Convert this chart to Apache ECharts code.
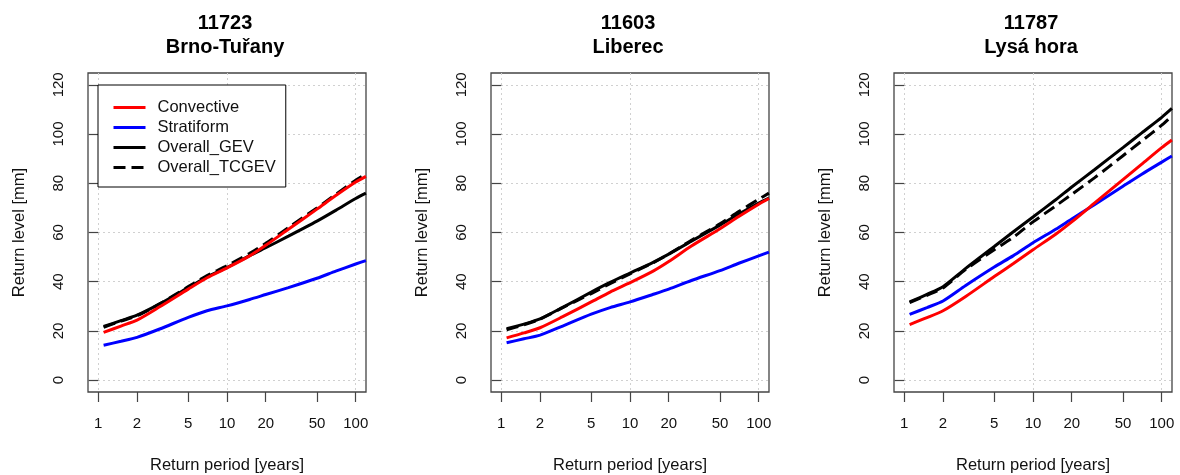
<!DOCTYPE html>
<html>
<head>
<meta charset="utf-8">
<script src="https://cdn.jsdelivr.net/npm/echarts@6/dist/echarts.min.js"></script>
<style>
  html, body { margin: 0; padding: 0; background: #fff; }
  #chart { width: 1180px; height: 475px; }
</style>
</head>
<body>
<div id="chart"></div>
<script>
// Return periods [years] at which the return levels are evaluated
const returnPeriods = [1.1, 1.5, 2, 3, 5, 7, 10, 15, 20, 30, 50, 70, 100, 120];

// Axis ticks
const xTickLabels = [1, 2, 5, 10, 20, 50, 100];
const yTickLabels = [0, 20, 40, 60, 80, 100, 120];

// Station titles
const stationTitles = ['11723\nBrno-Tuřany', '11603\nLiberec', '11787\nLysá hora'];
const seriesNames = ['Convective', 'Stratiform', 'Overall_GEV', 'Overall_TCGEV'];

// 11723 Brno-Tuřany, return levels [mm]
const brnoConvective = [19.4, 22.0, 24.4, 29.8, 37.0, 41.6, 45.6, 50.5, 54.8, 61.3, 69.5, 75.0, 80.5, 82.8];
const brnoStratiform = [14.2, 15.8, 17.4, 20.8, 25.5, 28.2, 30.2, 32.8, 34.8, 37.6, 41.4, 44.3, 47.2, 48.6];
const brnoGEV        = [21.8, 24.2, 26.4, 31.0, 37.6, 42.0, 45.8, 50.6, 53.8, 58.5, 64.6, 69.0, 73.8, 76.0];
const brnoTCGEV      = [21.5, 24.0, 26.2, 31.0, 38.0, 42.5, 46.5, 51.5, 55.6, 62.0, 70.0, 75.5, 81.2, 83.7];

// 11603 Liberec, return levels [mm]
const liberecConvective = [17.2, 19.2, 21.3, 25.8, 31.8, 35.8, 39.6, 44.2, 48.2, 54.5, 61.5, 66.5, 71.5, 73.8];
const liberecStratiform = [15.2, 16.8, 18.3, 22.0, 26.8, 29.5, 31.8, 34.8, 37.0, 40.5, 44.5, 47.5, 50.5, 52.0];
const liberecGEV        = [20.9, 22.8, 24.9, 29.6, 35.8, 39.7, 43.5, 47.8, 51.2, 56.5, 63.0, 67.5, 72.0, 74.0];
const liberecTCGEV      = [20.5, 22.5, 24.8, 29.5, 35.2, 39.2, 43.2, 47.6, 51.2, 56.8, 63.5, 68.5, 73.5, 76.0];

// 11787 Lysá hora, return levels [mm]
const lysaConvective = [22.6, 25.4, 28.2, 34.0, 42.1, 47.3, 53.0, 59.3, 64.3, 71.9, 81.5, 87.8, 94.5, 97.6];
const lysaStratiform = [26.7, 29.5, 32.2, 38.5, 46.0, 50.5, 55.8, 61.3, 65.5, 71.3, 78.8, 83.7, 88.6, 91.1];
const lysaGEV        = [31.8, 34.9, 38.0, 45.4, 54.3, 60.2, 66.3, 73.3, 78.5, 85.5, 94.5, 100.5, 106.8, 110.4];
const lysaTCGEV      = [31.5, 34.5, 37.5, 45.0, 53.0, 58.0, 64.3, 70.8, 75.5, 82.2, 91.2, 97.2, 103.6, 107.4];

const panels = [
  [brnoConvective, brnoStratiform, brnoGEV, brnoTCGEV],
  [liberecConvective, liberecStratiform, liberecGEV, liberecTCGEV],
  [lysaConvective, lysaStratiform, lysaGEV, lysaTCGEV]
];

// Axis ranges: nominal limits padded by 4 % as in base R graphics
const X_MIN = 0.832, X_MAX = 120.2;
const Y_MIN = -4.8, Y_MAX = 124.8;

const FONT = "'Liberation Sans', Arial, sans-serif";
const lineColors = ['#ff0000', '#0000ff', '#000000', '#000000'];
const lineTypes = ['solid', 'solid', 'solid', [12, 6]];
const drawOrder = [2, 3, 1, 0];

const gridLefts = [88, 491, 894];
const GRID_W = 278, GRID_TOP = 73, GRID_H = 319;

const grid = [], xAxis = [], yAxis = [], series = [], title = [];

gridLefts.forEach((left, p) => {
  grid.push({
    left: left, top: GRID_TOP, width: GRID_W, height: GRID_H,
    outerBoundsMode: 'none', containLabel: false,
    show: true, borderColor: '#444', borderWidth: 1.3, backgroundColor: 'transparent'
  });

  title.push({
    text: stationTitles[p],
    left: left + GRID_W / 2 - 2,
    top: 11,
    textAlign: 'center',
    padding: 0,
    textStyle: { fontFamily: FONT, fontSize: 20, fontWeight: 'bold', color: '#000', lineHeight: 24 }
  });

  // log axis carrying the data and the decade grid lines
  xAxis.push({
    type: 'log', logBase: 10, gridIndex: p, position: 'bottom',
    min: X_MIN, max: X_MAX,
    axisLine: { show: false }, axisTick: { show: false }, axisLabel: { show: false },
    splitLine: { show: true, showMinLine: false, showMaxLine: false,
      lineStyle: { color: '#d0d0d0', type: [2, 3], width: 1 } }
  });
  // companion axis (log10 units) used for the tick marks and labels
  const tickPos = xTickLabels.map(v => Math.log10(v));
  xAxis.push({
    type: 'value', gridIndex: p, position: 'bottom',
    min: Math.log10(X_MIN), max: Math.log10(X_MAX),
    name: 'Return period [years]', nameLocation: 'middle', nameGap: 65,
    nameTextStyle: { fontFamily: FONT, fontSize: 16.5, color: '#111' },
    axisLine: { show: false },
    axisTick: { show: true, length: 10, customValues: tickPos, lineStyle: { color: '#444', width: 1.2 } },
    axisLabel: { show: true, customValues: tickPos, margin: 24,
      fontFamily: FONT, fontSize: 15, color: '#111',
      formatter: v => String(Math.round(Math.pow(10, v))) },
    splitLine: { show: false }
  });

  yAxis.push({
    type: 'value', gridIndex: p, min: Y_MIN, max: Y_MAX,
    name: 'Return level [mm]', nameLocation: 'middle', nameGap: 60,
    nameTextStyle: { fontFamily: FONT, fontSize: 16.5, color: '#111' },
    axisLine: { show: false },
    axisTick: { show: true, length: 10, customValues: yTickLabels, lineStyle: { color: '#444', width: 1.2 } },
    axisLabel: { show: true, customValues: yTickLabels, rotate: 90, margin: 22,
      fontFamily: FONT, fontSize: 15, color: '#111' },
    splitLine: { show: true, lineStyle: { color: '#d0d0d0', type: [2, 3], width: 1 } }
  });

  drawOrder.forEach(k => {
    series.push({
      type: 'line', name: seriesNames[k],
      xAxisIndex: p * 2, yAxisIndex: p,
      data: returnPeriods.map((rp, j) => [rp, panels[p][k][j]]),
      symbol: 'none', smooth: 0.25, clip: true,
      lineStyle: { color: lineColors[k], width: 3, type: lineTypes[k] },
      itemStyle: { color: lineColors[k] },
      emphasis: { disabled: true },
      z: 3
    });
  });
});

const chart = echarts.init(document.getElementById('chart'), null, { renderer: 'canvas' });
chart.setOption({
  animation: false,
  backgroundColor: '#fff',
  title: title,
  grid: grid,
  xAxis: xAxis,
  yAxis: yAxis,
  legend: {
    data: seriesNames,
    orient: 'vertical',
    left: 98, top: 85,
    padding: [14, 10, 11, 14],
    itemWidth: 32, itemHeight: 16, itemGap: 3,
    borderColor: '#000', borderWidth: 1, borderRadius: 0,
    backgroundColor: '#fff',
    selectedMode: false,
    lineStyle: { width: 3 },
    itemStyle: { opacity: 0 },
    textStyle: { fontFamily: FONT, fontSize: 16.5, color: '#111', lineHeight: 16, padding: [0, 0, 0, 7] }
  },
  series: series
});
</script>
</body>
</html>
